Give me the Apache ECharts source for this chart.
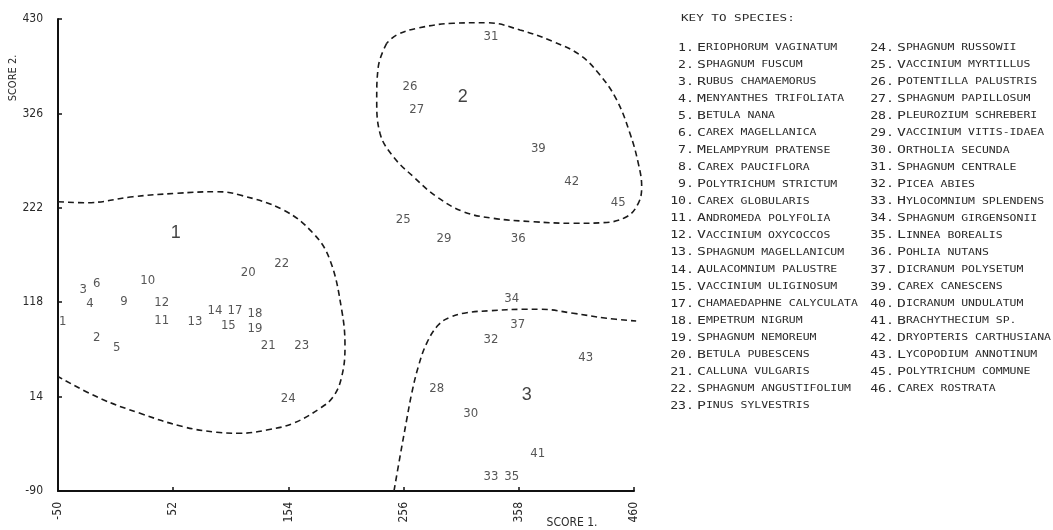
<!DOCTYPE html>
<html><head><meta charset="utf-8">
<script src="https://cdn.jsdelivr.net/npm/echarts@6/dist/echarts.min.js"></script>
<style>html,body{margin:0;padding:0;background:#fff}#c{width:1053px;height:530px}</style>
</head><body><div id="c"></div>
<script>
// species positions: [score1, score2, label]
const species = [
  [-45.8, 96.5, '1'], [-15.7, 79.3, '2'], [-27.6, 131.4, '3'], [-21.7, 116.8, '4'],
  [2.0, 67.9, '5'], [-15.7, 138.1, '6'], [8.4, 118.6, '9'], [29.4, 141.4, '10'],
  [41.8, 97.3, '11'], [41.8, 117.4, '12'], [71.3, 96.5, '13'], [89.0, 108.6, '14'],
  [100.8, 91.8, '15'], [106.7, 108.6, '17'], [124.4, 105.0, '18'], [124.4, 89.2, '19'],
  [118.5, 150.9, '20'], [136.2, 70.1, '21'], [148.1, 160.1, '22'], [165.8, 70.1, '23'],
  [153.9, 12.1, '24'], [255.7, 208.6, '25'], [261.7, 355.4, '26'], [267.6, 330.5, '27'],
  [285.3, 23.1, '28'], [291.8, 188.4, '29'], [315.4, -5.2, '30'], [333.4, 410.5, '31'],
  [333.4, 77.1, '32'], [333.4, -74.2, '33'], [351.7, 122.3, '34'], [351.7, -74.2, '35'],
  [357.5, 188.4, '36'], [357.0, 93.7, '37'], [375.3, 286.8, '39'], [374.7, -49.2, '41'],
  [404.8, 250.8, '42'], [417.2, 57.3, '43'], [446.1, 227.6, '45']
];
const groupLabels = [[54.2, 193.9, '1'], [308.3, 344.4, '2'], [365.0, 15.8, '3']];
const boundary1 = [[-50, 228.7], [-24.6, 227.6], [16.4, 234.2], [55.1, 238.0], [90.5, 239.7],
  [111.1, 236.1], [149.5, 219.6], [176.0, 193.9], [190.8, 164.5], [201.2, 109.4],
  [204.1, 69.0], [201.2, 35.9], [193.7, 13.9], [182.0, 1.1], [158.3, -15.4], [134.8, -22.8],
  [111.1, -26.4], [90.5, -25.3], [60.9, -19.2], [22.6, -4.4], [-12.8, 12.1], [-49.7, 35.9]];
const boundary2 = [[241.0, 403.2], [233.6, 377.5], [232.2, 340.8], [235.1, 304.1], [246.9, 278.3],
  [264.6, 256.3], [285.3, 234.2], [308.9, 217.7], [335.4, 210.4], [370.8, 206.7], [406.2, 204.9],
  [432.8, 205.6], [453.5, 212.2], [463.8, 226.9], [466.8, 245.3], [463.8, 271.0], [456.4, 304.1],
  [444.7, 340.8], [429.9, 368.3], [412.2, 390.3], [388.6, 405.0], [359.1, 417.9], [329.6, 425.9],
  [300.0, 425.3], [267.6, 419.7], [249.9, 412.4], [241.0, 403.2]];
const boundary3 = [[247.5, -90], [252.8, -52.2], [258.7, -11.8], [263.2, 17.6], [269.0, 46.9],
  [276.4, 72.7], [286.7, 92.9], [297.1, 101.4], [311.9, 106.4], [332.5, 108.6], [362.0, 110.2],
  [377.0, 110.2], [406.2, 105.8], [435.8, 100.3], [461.9, 97.3]];
const xTicks = [-50, 52, 154, 256, 358, 460];
const yTicks = [-90, 14, 118, 222, 326, 430];
const keyTitle = 'KEY TO SPECIES:';
const keyCol1Nums = ['1', '2', '3', '4', '5', '6', '7', '8', '9', '10', '11', '12', '13', '14', '15', '17', '18', '19', '20', '21', '22', '23'];
const keyCol1Names = ['Eriophorum vaginatum', 'Sphagnum fuscum', 'Rubus chamaemorus', 'Menyanthes trifoliata',
  'Betula nana', 'Carex magellanica', 'Melampyrum pratense', 'Carex pauciflora', 'Polytrichum strictum',
  'Carex globularis', 'Andromeda polyfolia', 'Vaccinium oxycoccos', 'Sphagnum magellanicum',
  'Aulacomnium palustre', 'Vaccinium uliginosum', 'Chamaedaphne calyculata', 'Empetrum nigrum',
  'Sphagnum nemoreum', 'Betula pubescens', 'Calluna vulgaris', 'Sphagnum angustifolium', 'Pinus sylvestris'];
const keyCol2Nums = ['24', '25', '26', '27', '28', '29', '30', '31', '32', '33', '34', '35', '36', '37', '39', '40', '41', '42', '43', '45', '46'];
const keyCol2Names = ['Sphagnum russowii', 'Vaccinium myrtillus', 'Potentilla palustris', 'Sphagnum papillosum',
  'Pleurozium schreberi', 'Vaccinium vitis-idaea', 'Ortholia secunda', 'Sphagnum centrale', 'Picea abies',
  'Hylocomnium splendens', 'Sphagnum girgensonii', 'Linnea borealis', 'Pohlia nutans', 'Dicranum polysetum',
  'Carex canescens', 'Dicranum undulatum', 'Brachythecium sp.', 'Dryopteris carthusiana',
  'Lycopodium annotinum', 'Polytrichum commune', 'Carex rostrata'];

const NARROW = "'Liberation Sans Narrow', 'DejaVu Sans Condensed', 'DejaVu Sans', sans-serif";
const MONO = "'DejaVu Sans Mono', monospace";
const INK = '#2a2a2a';

const chart = echarts.init(document.getElementById('c'), null, {renderer: 'canvas'});

const graphic = [];
const SX = 1.35;
graphic.push({type: 'text', x: 681, y: 19, scaleX: 1.4,
  style: {text: keyTitle, font: "9px " + MONO, fill: INK, verticalAlign: 'middle'}});
function addCol(nums, names, numRight, textX) {
  nums.forEach((n, i) => {
    const y = 48 + i * 17.05;
    graphic.push({type: 'text', x: numRight, y: y, scaleX: 1.2,
      style: {text: n + '.', font: "11px " + MONO, fill: INK, align: 'right', verticalAlign: 'middle'}});
    const nm = names[i].toUpperCase();
    graphic.push({type: 'text', x: textX, y: y, scaleX: SX,
      style: {text: '{b|' + nm.charAt(0) + '}{s|' + nm.slice(1) + '}', verticalAlign: 'middle', fill: INK,
        rich: {b: {fontFamily: MONO, fontSize: 11, fill: INK, color: INK},
               s: {fontFamily: MONO, fontSize: 8.5, fill: INK, color: INK}}}});
  });
}
addCol(keyCol1Nums, keyCol1Names, 694, 697);
addCol(keyCol2Nums, keyCol2Names, 894, 897);
graphic.push({type: 'text', x: 13, y: 78, rotation: Math.PI / 2,
  style: {text: 'SCORE 2.', font: "11px " + NARROW, fill: INK, align: 'center', verticalAlign: 'middle'}});
graphic.push({type: 'text', x: 572, y: 523,
  style: {text: 'SCORE 1.', font: "12px " + NARROW, fill: INK, align: 'center', verticalAlign: 'middle'}});

const dashed = {color: '#1a1a1a', width: 1.6, type: [6, 4]};
function boundary(data) {
  return {type: 'line', data: data, smooth: 0.4, showSymbol: false, symbol: 'none', clip: false,
    xAxisIndex: 1, yAxisIndex: 1, lineStyle: dashed, silent: true, z: 1};
}

// main plot geometry
const G = {left: 58, right: 419, top: 19, bottom: 39};
const plotW = 1053 - G.left - G.right;
const X_MIN = -50, X_MAX = 460;
// a wider, hidden grid with the same scale so the group boundaries can run past the axis end
const EXTRA = 20;
const X_MAX2 = X_MAX + EXTRA * (X_MAX - X_MIN) / plotW;

chart.setOption({
  animation: false,
  backgroundColor: '#fff',
  grid: [G, {left: G.left, right: G.right - EXTRA, top: G.top, bottom: G.bottom}],
  xAxis: [{type: 'value', gridIndex: 0, min: X_MIN, max: X_MAX, interval: 102,
    axisLine: {onZero: false, lineStyle: {color: '#111', width: 2}},
    axisTick: {show: true, inside: true, length: 4, lineStyle: {color: '#111', width: 1.5}},
    splitLine: {show: false},
    axisLabel: {rotate: 90, margin: 11, fontFamily: NARROW, fontSize: 12, color: INK,
      customValues: xTicks},
  }, {type: 'value', gridIndex: 1, min: X_MIN, max: X_MAX2, show: false}],
  yAxis: [{type: 'value', gridIndex: 0, min: -90, max: 430, interval: 104,
    axisLine: {show: true, onZero: false, lineStyle: {color: '#111', width: 2}},
    axisTick: {show: true, inside: true, length: 4, lineStyle: {color: '#111', width: 1.5}},
    splitLine: {show: false},
    axisLabel: {margin: 15, fontFamily: NARROW, fontSize: 12, color: INK, customValues: yTicks},
  }, {type: 'value', gridIndex: 1, min: -90, max: 430, show: false}],
  graphic: graphic,
  series: [
    boundary(boundary1), boundary(boundary2), boundary(boundary3),
    {type: 'scatter', data: species, symbolSize: 0, z: 3,
      label: {show: true, position: 'inside', formatter: p => p.data[2],
        fontFamily: NARROW, fontSize: 13, color: INK}},
    {type: 'scatter', data: groupLabels, symbolSize: 0, z: 3,
      label: {show: true, position: 'inside', formatter: p => p.data[2],
        fontFamily: "'Liberation Sans', Arial, sans-serif", fontSize: 18, color: '#111'}}
  ]
});
</script>
</body></html>
